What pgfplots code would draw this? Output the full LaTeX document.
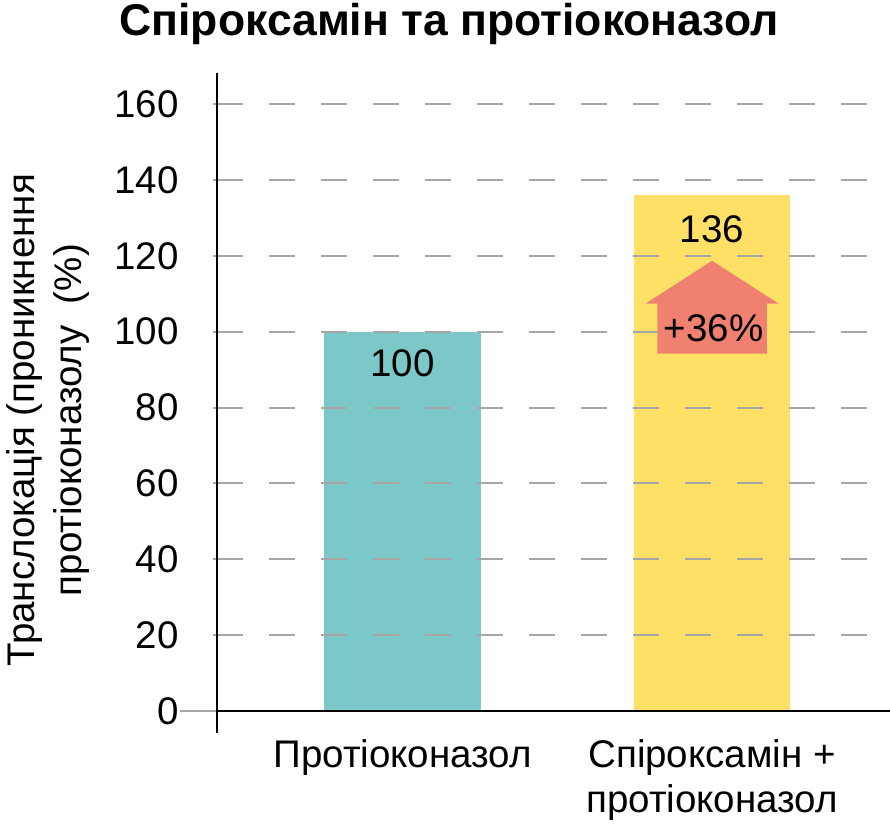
\documentclass[border=0pt]{standalone}
\usepackage{pgfplots}
\pgfplotsset{compat=1.18}
\usepackage{fontspec}
\setmainfont{Liberation Sans}
\definecolor{barteal}{HTML}{7CC8C8}
\definecolor{baryellow}{HTML}{FFE066}
\definecolor{arrowred}{HTML}{F08070}
\definecolor{gridgray}{HTML}{A6A6A6}
\newcommand{\lbl}{\fontsize{38.5bp}{45bp}\selectfont}

\begin{document}
\begin{tikzpicture}
\begin{axis}[
  set layers,
  scale only axis, width=673bp, height=660bp,
  xmin=-0.6, xmax=1.575, ymin=-5.8, ymax=168.2,
  axis x line*=bottom, axis y line*=left,
  x axis line style={draw=none},
  y axis line style={black, line width=2.5bp},
  xtick={0,1},
  xticklabels={Протіоконазол,
    {\begin{tabular}[t]{@{}c@{}}Спіроксамін +\\протіоконазол\end{tabular}}},
  xticklabel style={font=\lbl, anchor=base, yshift=-30bp},
  major x tick style={draw=none},
  ytick={0,20,...,160},
  yticklabel style={font=\lbl, xshift=-31bp},
  /pgf/number format/assume math mode=true,
  tick align=outside, major tick length=4bp,
  major y tick style={gridgray, line width=2bp},
  ymajorgrids,
  major grid style={gridgray, line width=2bp, dash pattern=on 26bp off 26bp},
  extra y ticks={0}, extra y tick labels={},
  extra y tick style={grid=major, major grid style={black, solid, line width=2.5bp},
    major tick length=37bp, tick style={black, line width=2.5bp}},
  ylabel={Транслокація (проникнення\\протіоконазолу\ \ (\%)},
  ylabel style={align=center, font=\fontsize{38.5bp}{47bp}\selectfont,
    at={(rel axis cs:-0.2511,0.474)}, anchor=center},
  title={Спіроксамін та протіоконазол},
  title style={font=\fontsize{44.5bp}{48bp}\selectfont\bfseries,
    at={(rel axis cs:0.3447,1.0485)}, anchor=base},
]
\addplot[ybar, bar width=0.506, fill=barteal, draw=none, on layer=axis background]
  coordinates {(0,100)};
\addplot[ybar, bar width=0.506, fill=baryellow, draw=none, on layer=axis background]
  coordinates {(1,136)};
% arrow showing the increase
\addplot[fill=arrowred, draw=none]
  coordinates {(0.823,94.2) (0.823,107.4) (0.785,107.4) (1,118.7) (1.215,107.4) (1.177,107.4) (1.177,94.2)} -- cycle;
\node[font=\lbl] at (axis cs:0,91.8) {100};
\node[font=\lbl] at (axis cs:1,127) {136};
\node[font=\lbl] at (axis cs:1.005,101) {+36\%};
\end{axis}
\pgfresetboundingbox
\useasboundingbox (-217bp,-93bp) rectangle (673bp,733bp);
\end{tikzpicture}
\end{document}
